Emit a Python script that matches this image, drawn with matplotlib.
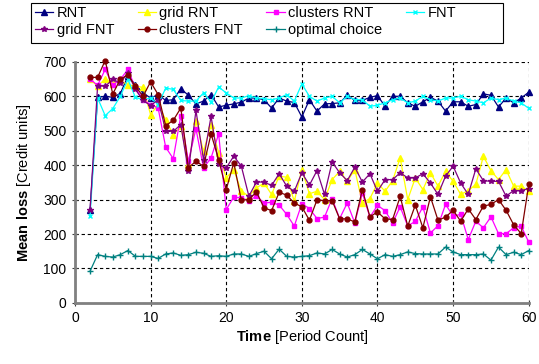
import matplotlib
matplotlib.use("Agg")
import matplotlib.pyplot as plt
from matplotlib.patches import Rectangle

plt.rcParams['font.family'] = ['Liberation Sans', 'DejaVu Sans']
plt.rcParams['mathtext.fontset'] = 'custom'
plt.rcParams['mathtext.rm'] = 'Liberation Sans'
plt.rcParams['mathtext.bf'] = 'Liberation Sans:bold'

# time axis: period 2 .. 60
periods = list(range(2, 61))

rnt = [269, 597, 600, 597, 608, 658, 634, 610, 595, 605, 588, 590, 622, 603,
       578, 586, 605, 569, 574, 578, 583, 595, 595, 590, 566, 595, 586, 582,
       540, 590, 557, 578, 579, 581, 603, 588, 588, 597, 602, 571, 600, 600,
       581, 571, 584, 597, 586, 557, 584, 584, 571, 576, 607, 603, 569, 595,
       581, 595, 612]
grid_rnt = [650, 629, 651, 636, 646, 634, 629, 626, 547, 576, 532, 489, 513,
            402, 528, 440, 518, 436, 363, 387, 324, 310, 334, 348, 315, 368,
            365, 295, 387, 317, 324, 300, 358, 382, 353, 387, 290, 303, 348,
            324, 355, 421, 300, 363, 329, 378, 339, 382, 353, 315, 326, 344,
            426, 384, 358, 387, 339, 339, 324]
clusters_rnt = [650, 632, 678, 632, 649, 678, 624, 590, 576, 566, 452, 419,
                544, 411, 506, 392, 421, 491, 271, 307, 305, 297, 310, 290,
                292, 284, 257, 223, 288, 274, 245, 249, 303, 245, 290, 232,
                319, 249, 283, 268, 232, 279, 223, 237, 279, 203, 224, 286,
                252, 257, 184, 237, 218, 250, 201, 201, 218, 223, 176]
fnt = [252, 595, 544, 564, 600, 649, 597, 590, 595, 576, 624, 620, 588, 586,
       586, 610, 583, 627, 610, 595, 595, 602, 595, 593, 590, 595, 605, 586,
       636, 600, 586, 595, 600, 581, 600, 590, 590, 571, 574, 581, 590, 595,
       581, 586, 600, 590, 586, 595, 595, 600, 590, 586, 581, 595, 590, 595,
       586, 581, 565]
grid_fnt = [269, 631, 629, 649, 639, 668, 620, 588, 573, 590, 500, 498, 518,
            382, 559, 416, 542, 402, 392, 426, 397, 310, 351, 351, 341, 375,
            339, 324, 378, 342, 384, 315, 409, 378, 355, 394, 351, 375, 324,
            358, 358, 378, 363, 363, 375, 348, 315, 368, 397, 348, 315, 389,
            355, 353, 353, 310, 326, 326, 332]
clusters_fnt = [655, 655, 704, 607, 649, 663, 629, 600, 642, 605, 515, 530,
                566, 393, 411, 397, 491, 416, 329, 407, 298, 300, 322, 276,
                268, 321, 313, 290, 279, 240, 299, 297, 297, 244, 244, 235,
                329, 250, 264, 244, 242, 309, 223, 284, 218, 308, 240, 249,
                269, 237, 273, 242, 281, 286, 300, 269, 227, 201, 344]
optimal = [92, 140, 135, 133, 140, 152, 135, 135, 135, 129, 142, 145, 138,
           140, 147, 144, 135, 137, 135, 142, 142, 135, 143, 150, 128, 156,
           135, 133, 135, 137, 145, 142, 155, 142, 133, 140, 155, 142, 128,
           140, 135, 140, 148, 143, 142, 142, 142, 162, 148, 140, 140, 140,
           142, 124, 162, 140, 147, 140, 152]

x_ticks = [0, 10, 20, 30, 40, 50, 60]
y_ticks = [0, 100, 200, 300, 400, 500, 600, 700]

fig = plt.figure(figsize=(5.39, 3.64), dpi=100)
ax = fig.add_axes([0.139, 0.168, 0.842, 0.662])

# (label, data, colour, marker, size)
series = [
    ("RNT", rnt, "#000080", "^", 3.8),
    ("grid RNT", grid_rnt, "#FFFF00", "^", 3.8),
    ("clusters RNT", clusters_rnt, "#FF00FF", "s", 3.3),
    ("FNT", fnt, "#00FFFF", "x", 3.3),
    ("grid FNT", grid_fnt, "#800080", "*", 4.2),
    ("clusters FNT", clusters_fnt, "#800000", "o", 3.5),
    ("optimal choice", optimal, "#008080", "+", 4.2),
]
lines = {}
for label, data, colour, marker, size in series:
    ln, = ax.plot(periods, data, color=colour, marker=marker, markersize=size,
                  linewidth=0.9, label=label, clip_on=False)
    lines[label] = ln

ax.set_xlim(0, 60)
ax.set_ylim(0, 700)
ax.set_xticks(x_ticks)
ax.set_yticks(y_ticks)
ax.grid(True, color="black", linestyle=(0, (3, 2.5)), linewidth=0.8)
for side in ("top", "right"):
    ax.spines[side].set_visible(False)
for side in ("left", "bottom"):
    ax.spines[side].set_color("#808080")
    ax.spines[side].set_linewidth(2)
ax.tick_params(direction="inout", length=5, labelsize=10, color="#404040")

ax.set_xlabel(r"$\bf{Time}$ [Period Count]", fontsize=10.5, labelpad=2)
ax.set_ylabel(r"$\bf{Mean\ loss}$ [Credit units]", fontsize=10.5, labelpad=7)

# legend filled column by column, so reorder to read row by row
order = ["RNT", "grid FNT", "grid RNT", "clusters FNT", "clusters RNT",
         "optimal choice", "FNT"]
leg = fig.legend([lines[k] for k in order], order, ncol=4,
                 loc="upper left", bbox_to_anchor=(0.062, 0.988),
                 fontsize=10.5, frameon=False,
                 handlelength=1.25, handletextpad=0.25, columnspacing=1.6,
                 labelspacing=0.2, borderpad=0.1, borderaxespad=0)

# legend box drawn a bit wider than its entries, as in the original
fig.patches.append(Rectangle((0.057, 0.881), 0.877, 0.111,
                             transform=fig.transFigure, fill=False,
                             edgecolor="black", linewidth=0.8))

fig.savefig("out.png", dpi=100)
